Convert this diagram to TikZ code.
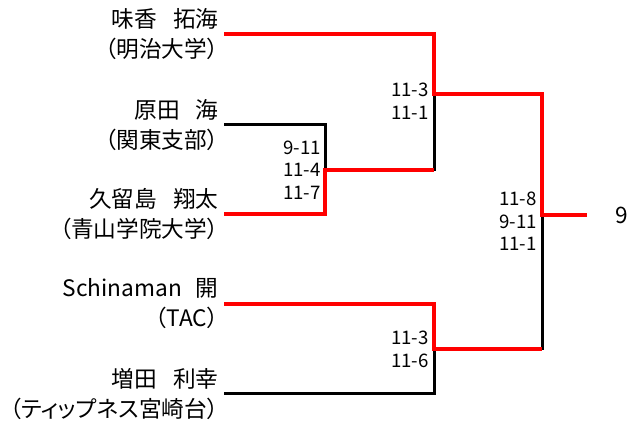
\documentclass[tikz,border=0pt]{standalone}
\usepackage{fontspec}
\setmainfont[RawFeature=+palt]{Noto Sans CJK JP}
\usetikzlibrary{calc}

\begin{document}
\begin{tikzpicture}[x=0.75pt, y=-0.75pt,
      every node/.append style={inner sep=0pt},
      player/.style={anchor=east, align=right, inner xsep=4pt, font=\fontsize{17}{22.5}\selectfont},
      score/.style={anchor=east, align=right, font=\fontsize{14}{17}\selectfont},
      lost/.style={draw=black, line width=2.25pt},
      won/.style={draw=red, line width=3pt}]
      \useasboundingbox (0,0) rectangle (628,423);
      \node (Takumi) [player] at (224,34) {味香\kern.7em 拓海\\（明治大学）};
      \node (Kai) [player] at (224,125) {原田\kern.7em 海\\（関東支部）};
      \node (Shota) [player] at (224,214) {久留島\kern.7em 翔太\\（青山学院大学）};
      \node (Schinaman) [player] at (224,304) {Schinaman\kern.6em 開\\（TAC）};
      \node (Toshiyuki) [player] at (224,394) {増田\kern.7em 利幸\\（ティップネス宮崎台）};
      \node (Nine) [anchor=west, inner xsep=21pt, font=\fontsize{17}{18}\selectfont] at (587,215) {9};
      \coordinate (r1) at (325,170);
      \coordinate (s1) at (434,94);
      \coordinate (s2) at (434,349);
      \coordinate (f) at (542,215);
      \node (score1) [score] at (429,101) {11-3\\11-1};
      \node (score2) [score] at (321,170) {9-11\\11-4\\11-7};
      \node (score3) [score] at (537,221.5) {11-8\\9-11\\11-1};
      \node (score4) [score] at (429,349.5) {11-3\\11-6};
      \draw[lost] (Kai.east) -| (r1);
      \draw[lost] (r1) -| (s1);
      \draw[lost] (Toshiyuki.east) -| (s2);
      \draw[lost] (s2) -| (f);
      \draw[won] (Shota.east) -| (r1) -- (r1 -| s1);
      \draw[won] (Takumi.east) -| (s1) -| (f) -- (Nine);
      \draw[won] (Schinaman.east) -| (s2) -- (s2 -| f);
\end{tikzpicture}
\end{document}
